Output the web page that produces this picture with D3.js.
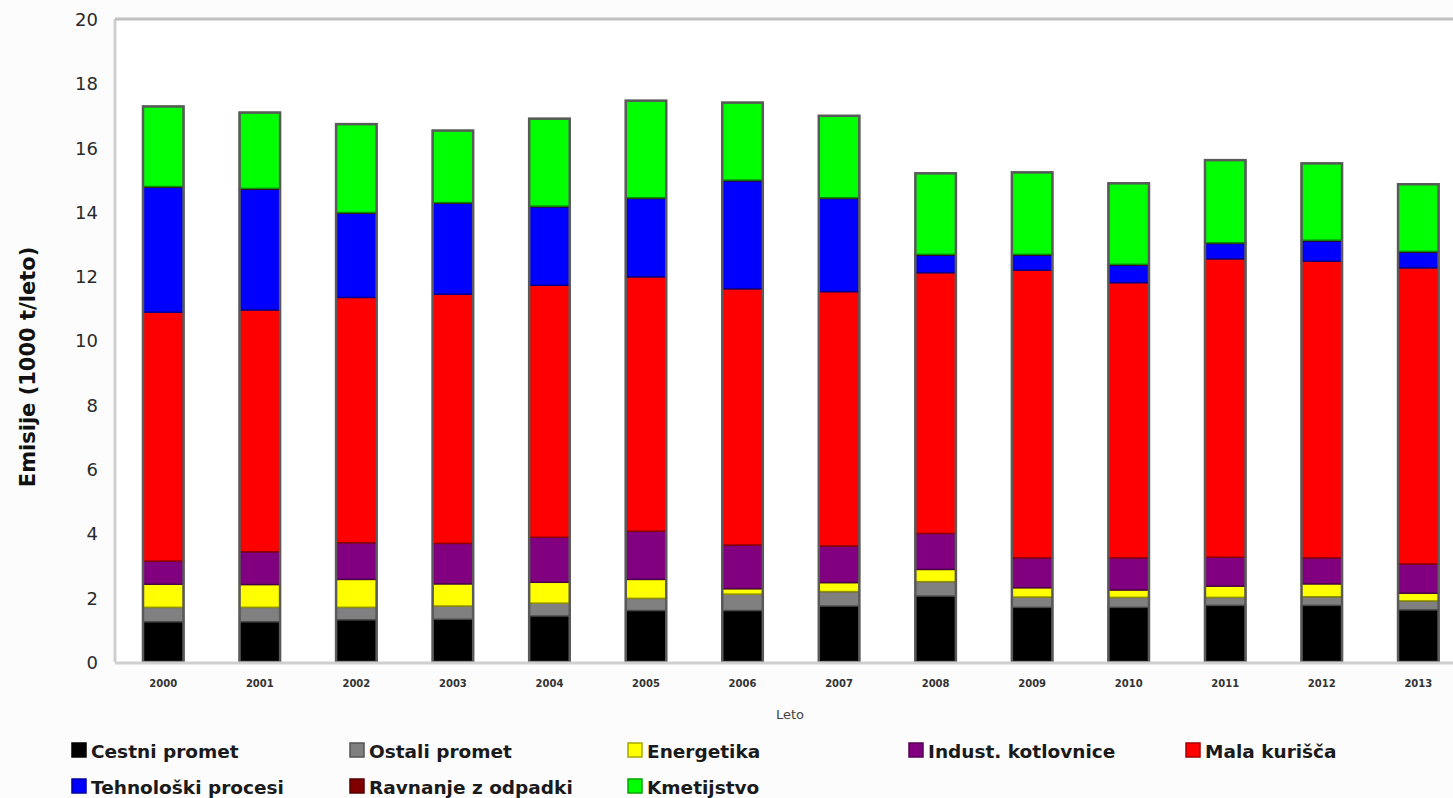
<!DOCTYPE html>
<html>
<head>
<meta charset="utf-8">
<script src="https://cdn.jsdelivr.net/npm/d3@7/dist/d3.min.js"></script>
<style>
  html, body { margin: 0; padding: 0; background: #fcfcfc; overflow: hidden; }
  svg { display: block; font-family: "DejaVu Sans", sans-serif; }
</style>
</head>
<body>
<svg id="chart" width="1453" height="798"></svg>
<script>
const years = ["2000","2001","2002","2003","2004","2005","2006","2007","2008","2009","2010","2011","2012","2013"];
const seriesNames = ["Cestni promet","Ostali promet","Energetika","Indust. kotlovnice","Mala kurišča","Tehnološki procesi","Ravnanje z odpadki","Kmetijstvo"];
const seriesColors = ["#000000","#808080","#ffff00","#800080","#ff0000","#0000ff","#800000","#00ff00"];

const cestniPromet   = [1.25,1.25,1.31,1.33,1.43,1.60,1.60,1.74,2.05,1.70,1.70,1.76,1.76,1.62];
const ostaliPromet   = [0.45,0.45,0.39,0.41,0.40,0.38,0.51,0.45,0.45,0.32,0.31,0.25,0.27,0.28];
const energetika     = [0.72,0.71,0.87,0.69,0.65,0.59,0.17,0.28,0.38,0.29,0.23,0.35,0.40,0.24];
const industKotl     = [0.72,1.02,1.14,1.26,1.40,1.50,1.36,1.14,1.12,0.93,1.00,0.90,0.81,0.91];
const malaKurisca    = [7.74,7.52,7.63,7.75,7.84,7.91,7.97,7.91,8.11,8.95,8.56,9.28,9.23,9.21];
const tehnoloski     = [3.89,3.76,2.62,2.83,2.44,2.44,3.36,2.90,0.55,0.47,0.55,0.48,0.63,0.49];
const ravnanjeOdpad  = [0.02,0.02,0.02,0.02,0.02,0.02,0.02,0.02,0.02,0.02,0.02,0.02,0.02,0.02];
const kmetijstvo     = [2.49,2.36,2.75,2.24,2.72,3.02,2.41,2.55,2.52,2.55,2.52,2.57,2.39,2.09];

const yTicks = [0,2,4,6,8,10,12,14,16,18,20];
const yTitle = "Emisije (1000 t/leto)";
const xTitle = "Leto";

const seriesValues = [cestniPromet, ostaliPromet, energetika, industKotl, malaKurisca, tehnoloski, ravnanjeOdpad, kmetijstvo];

const table = years.map((yr, i) => {
  const row = { year: yr };
  seriesNames.forEach((s, k) => row[s] = seriesValues[k][i]);
  return row;
});

const svg = d3.select("#chart");
const pLeft = 115, pTop = 19, pBottom = 662, pRight = 1466.6;

const x = d3.scaleBand().domain(years).range([pLeft, pRight]).paddingInner(0.58).paddingOuter(0.29);
const y = d3.scaleLinear().domain([0, 20]).range([pBottom, pTop]);

svg.append("rect").attr("x", pLeft).attr("y", pTop).attr("width", pRight - pLeft).attr("height", pBottom - pTop).attr("fill", "#ffffff");

const stack = d3.stack().keys(seriesNames);
const layers = stack(table);

const g = svg.append("g");
layers.forEach((layer, k) => {
  const col = seriesColors[k];
  g.selectAll(null).data(layer).enter().append("rect")
    .attr("x", d => x(d.data.year))
    .attr("y", d => y(d[1]))
    .attr("width", x.bandwidth())
    .attr("height", d => Math.max(0, y(d[0]) - y(d[1])))
    .attr("fill", col)
    .attr("stroke", d3.color(col).darker(1.6))
    .attr("stroke-width", 1.5);
});
g.selectAll(null).data(layers[layers.length - 1]).enter().append("rect")
  .attr("x", d => x(d.data.year))
  .attr("y", d => y(d[1]))
  .attr("width", x.bandwidth())
  .attr("height", d => y(0) - y(d[1]))
  .attr("fill", "none")
  .attr("stroke", "#5a5a5a")
  .attr("stroke-width", 2.5);

svg.append("line").attr("x1", pLeft).attr("x2", pLeft).attr("y1", pTop).attr("y2", pBottom).attr("stroke", "#cfcfcf").attr("stroke-width", 3);
svg.append("line").attr("x1", pLeft).attr("x2", pRight).attr("y1", pTop).attr("y2", pTop).attr("stroke", "#c0c0c0").attr("stroke-width", 3);
svg.append("line").attr("x1", pLeft).attr("x2", pRight).attr("y1", pBottom + 1).attr("y2", pBottom + 1).attr("stroke", "#cfcfcf").attr("stroke-width", 3);

const yAxis = d3.axisLeft(y).tickValues(yTicks).tickSize(0).tickPadding(0).tickFormat(d3.format("d"));
const ya = svg.append("g").attr("transform", `translate(${pLeft - 17},0)`).call(yAxis);
ya.select(".domain").remove();
ya.selectAll("text").attr("font-size", 18).attr("fill", "#2a2a2a").attr("font-family", "DejaVu Sans, sans-serif").attr("dy", "0.36em");

const xAxis = d3.axisBottom(x).tickSize(0).tickPadding(0);
const xa = svg.append("g").attr("transform", `translate(0,${pBottom + 18})`).call(xAxis);
xa.select(".domain").remove();
xa.selectAll("text").attr("font-size", 10).attr("font-weight", "bold").attr("fill", "#333").attr("font-family", "DejaVu Sans, sans-serif");

svg.append("text").attr("x", 790).attr("y", 719).attr("text-anchor", "middle")
  .attr("font-size", 13).attr("fill", "#444").text(xTitle);
svg.append("text").attr("transform", "translate(35,367) rotate(-90)").attr("text-anchor", "middle")
  .attr("font-size", 21).attr("font-weight", "bold").attr("fill", "#111").text(yTitle);

const legendX = [72, 350, 628, 909, 1186];
const legendY = [751, 787];
const lg = svg.append("g");
seriesNames.forEach((s, k) => {
  const col = k % 5, row = Math.floor(k / 5);
  const lx = legendX[col], ly = legendY[row];
  lg.append("rect").attr("x", lx).attr("y", ly - 8).attr("width", 14).attr("height", 14)
    .attr("fill", seriesColors[k]).attr("stroke", d3.color(seriesColors[k]).darker(1.2)).attr("stroke-width", 1.5);
  lg.append("text").attr("x", lx + 19).attr("y", ly).attr("dy", "0.36em")
    .attr("font-size", 18.5).attr("font-weight", "bold").attr("fill", "#1a1a1a").text(s);
});
</script>
</body>
</html>
